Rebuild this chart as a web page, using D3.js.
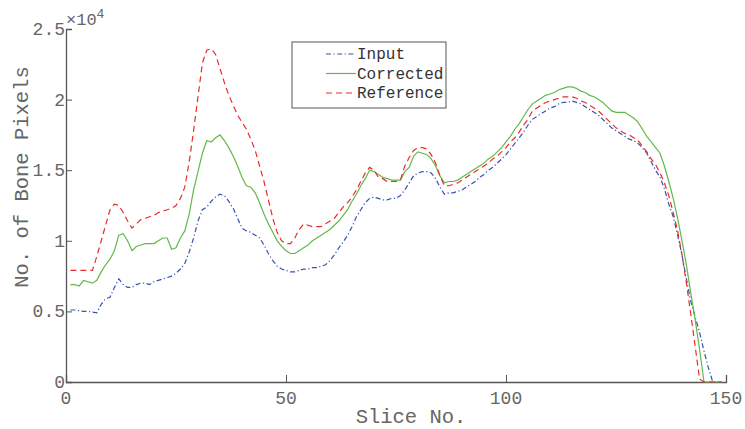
<!DOCTYPE html>
<html>
<head>
<meta charset="utf-8">
<script src="https://cdn.jsdelivr.net/npm/d3@7"></script>
<style>
    body { margin: 0; background: #fff; }
    text { font-family: "Liberation Mono", "DejaVu Sans Mono", monospace; }
</style>
</head>
<body>
<div id="chart"></div>
<script>
// values in units of 10^4 bone pixels, one per slice (1..149)
let slices = d3.range(1, 150);
let inputCounts = [
    0.51, 0.51, 0.505, 0.50, 0.50, 0.495, 0.49, 0.55, 0.59, 0.60,
    0.67, 0.73, 0.69, 0.67, 0.67, 0.69, 0.70, 0.70, 0.69, 0.71,
    0.72, 0.73, 0.74, 0.75, 0.77, 0.80, 0.84, 0.92, 1.02, 1.14,
    1.22, 1.24, 1.28, 1.31, 1.33, 1.32, 1.28, 1.23, 1.16, 1.09,
    1.07, 1.06, 1.04, 1.02, 0.97, 0.91, 0.86, 0.82, 0.80, 0.79,
    0.78, 0.78, 0.79, 0.80, 0.80, 0.81, 0.81, 0.82, 0.83, 0.86,
    0.90, 0.95, 0.99, 1.04, 1.10, 1.17, 1.22, 1.27, 1.30, 1.31,
    1.30, 1.29, 1.29, 1.30, 1.30, 1.32, 1.36, 1.41, 1.46, 1.48,
    1.49, 1.49, 1.48, 1.44, 1.38, 1.33, 1.34, 1.34, 1.35, 1.36,
    1.38, 1.40, 1.42, 1.45, 1.47, 1.50, 1.52, 1.55, 1.58, 1.61,
    1.65, 1.69, 1.73, 1.77, 1.82, 1.86, 1.88, 1.90, 1.92, 1.94,
    1.95, 1.97, 1.98, 1.98, 1.99, 1.98, 1.97, 1.95, 1.93, 1.91,
    1.89, 1.86, 1.83, 1.80, 1.78, 1.76, 1.74, 1.72, 1.71, 1.69,
    1.66, 1.62, 1.56, 1.50, 1.45, 1.37, 1.26, 1.17, 1.04, 0.90,
    0.73, 0.57, 0.46, 0.35, 0.22, 0.10, 0, 0, 0
];
let correctedCounts = [
    0.69, 0.69, 0.68, 0.72, 0.71, 0.70, 0.72, 0.78, 0.83, 0.87,
    0.93, 1.04, 1.05, 1.00, 0.93, 0.96, 0.97, 0.98, 0.98, 0.98,
    1.00, 1.02, 1.02, 0.94, 0.95, 1.02, 1.07, 1.19, 1.36, 1.49,
    1.62, 1.71, 1.70, 1.73, 1.75, 1.71, 1.66, 1.60, 1.53, 1.45,
    1.39, 1.38, 1.34, 1.27, 1.19, 1.12, 1.06, 1.00, 0.96, 0.93,
    0.91, 0.91, 0.93, 0.95, 0.97, 1.00, 1.02, 1.04, 1.06, 1.08,
    1.11, 1.14, 1.18, 1.22, 1.28, 1.33, 1.39, 1.44, 1.50, 1.49,
    1.47, 1.45, 1.44, 1.43, 1.43, 1.43, 1.49, 1.52, 1.60, 1.63,
    1.62, 1.61, 1.58, 1.53, 1.46, 1.41, 1.42, 1.42, 1.43, 1.45,
    1.47, 1.49, 1.51, 1.53, 1.55, 1.58, 1.60, 1.63, 1.66, 1.70,
    1.74, 1.79, 1.83, 1.88, 1.93, 1.97, 1.99, 2.01, 2.03, 2.04,
    2.05, 2.07, 2.08, 2.09, 2.09, 2.08, 2.06, 2.05, 2.03, 2.02,
    2.00, 1.98, 1.95, 1.92, 1.91, 1.91, 1.91, 1.89, 1.87, 1.84,
    1.79, 1.74, 1.70, 1.66, 1.62, 1.53, 1.42, 1.30, 1.16, 1.00,
    0.83, 0.63, 0.44, 0.23, 0, 0, 0, 0, 0
];
let referenceCounts = [
    0.79, 0.79, 0.79, 0.79, 0.79, 0.79, 0.89, 1.00, 1.11, 1.22,
    1.26, 1.25, 1.20, 1.14, 1.09, 1.12, 1.15, 1.16, 1.17, 1.18,
    1.20, 1.21, 1.22, 1.23, 1.25, 1.30, 1.38, 1.56, 1.78, 2.02,
    2.26, 2.35, 2.36, 2.32, 2.22, 2.12, 2.03, 1.96, 1.89, 1.84,
    1.79, 1.72, 1.64, 1.53, 1.42, 1.29, 1.16, 1.06, 1.00, 0.98,
    0.98, 1.02, 1.08, 1.12, 1.11, 1.10, 1.10, 1.10, 1.12, 1.14,
    1.16, 1.20, 1.24, 1.27, 1.31, 1.36, 1.42, 1.48, 1.52, 1.50,
    1.45, 1.44, 1.42, 1.42, 1.42, 1.43, 1.53, 1.59, 1.64, 1.66,
    1.66, 1.65, 1.61, 1.55, 1.46, 1.39, 1.39, 1.40, 1.41, 1.43,
    1.45, 1.47, 1.49, 1.51, 1.53, 1.55, 1.58, 1.60, 1.63, 1.66,
    1.70, 1.73, 1.77, 1.82, 1.86, 1.92, 1.94, 1.96, 1.98, 1.99,
    2.00, 2.01, 2.02, 2.02, 2.02, 2.01, 1.99, 1.98, 1.96, 1.94,
    1.92, 1.89, 1.86, 1.83, 1.80, 1.78, 1.76, 1.75, 1.73, 1.71,
    1.67, 1.63, 1.58, 1.54, 1.48, 1.41, 1.32, 1.20, 1.07, 0.90,
    0.70, 0.48, 0.25, 0.02, 0, 0, 0, 0, 0
];
let seriesNames = ["Input", "Corrected", "Reference"];
let xTicks = [0, 50, 100, 150];
let yTicks = [0, 0.5, 1, 1.5, 2, 2.5];

let width = 745, height = 429;
let plotLeft = 66, plotRight = 726, plotTop = 29, plotBottom = 382;

let series = [
    {name: seriesNames[0], values: inputCounts, color: "#3653b4", dash: "5,2.5,1.2,2.5"},
    {name: seriesNames[1], values: correctedCounts, color: "#62b84a", dash: null},
    {name: seriesNames[2], values: referenceCounts, color: "#ec2a2a", dash: "6,4"}
];

let x = d3.scaleLinear().domain([0, 150]).range([plotLeft, plotRight]);
let y = d3.scaleLinear().domain([0, 2.5]).range([plotBottom, plotTop]);

let svg = d3.select("#chart").append("svg").attr("width", width).attr("height", height);

// axes, ticks pointing inward
let xAxis = svg.append("g").attr("transform", `translate(0, ${plotBottom})`)
    .call(d3.axisTop(x).tickValues(xTicks).tickSize(7).tickFormat(""));
let yAxis = svg.append("g").attr("transform", `translate(${plotLeft}, 0)`)
    .call(d3.axisRight(y).tickValues(yTicks).tickSize(6).tickFormat(""));
[xAxis, yAxis].forEach(a => {
    a.select(".domain").attr("stroke", "#555").attr("stroke-width", 1.3);
    a.selectAll(".tick line").attr("stroke", "#555");
});

// curves drawn over the axes so the zero run stays visible
let line = d3.line().x((d, i) => x(slices[i])).y(d => y(d));
series.forEach(s => {
    svg.append("path")
        .attr("d", line(s.values))
        .attr("fill", "none")
        .attr("stroke", s.color)
        .attr("stroke-width", 1.2)
        .attr("stroke-dasharray", s.dash);
});

svg.selectAll(".xlabel").data(xTicks).enter().append("text")
    .attr("x", d => x(d)).attr("y", 404)
    .attr("text-anchor", "middle")
    .attr("fill", "#666").attr("font-size", 18)
    .text(d => d);
svg.selectAll(".ylabel").data(yTicks).enter().append("text")
    .attr("x", 65).attr("y", d => y(d) + 6)
    .attr("text-anchor", "end")
    .attr("fill", "#666").attr("font-size", 18)
    .text(d => d);

// exponent marker
let expo = svg.append("text").attr("x", 66).attr("y", 25).attr("fill", "#666").attr("font-size", 17);
expo.append("tspan").text("\u00d710");
expo.append("tspan").attr("dy", -7).attr("font-size", 13).text("4");

// axis titles
svg.append("text").attr("x", 411).attr("y", 423)
    .attr("text-anchor", "middle").attr("fill", "#666").attr("font-size", 20.5)
    .text("Slice No.");
svg.append("text").attr("transform", "translate(28, 177) rotate(-90)")
    .attr("text-anchor", "middle").attr("fill", "#666").attr("font-size", 20.5)
    .text("No. of Bone Pixels");

// legend
let legend = svg.append("g").attr("transform", "translate(292, 42)");
legend.append("rect").attr("width", 154).attr("height", 66)
    .attr("fill", "#fff").attr("stroke", "#555").attr("stroke-width", 1);
series.forEach((s, i) => {
    let row = legend.append("g").attr("transform", `translate(0, ${12 + i * 19.5})`);
    row.append("line").attr("x1", 34).attr("x2", 64).attr("y1", 0).attr("y2", 0)
        .attr("stroke", s.color).attr("stroke-width", 1.2).attr("stroke-dasharray", s.dash);
    row.append("text").attr("x", 65).attr("y", 5)
        .attr("fill", "#333").attr("font-size", 16)
        .text(s.name);
});
</script>
</body>
</html>
